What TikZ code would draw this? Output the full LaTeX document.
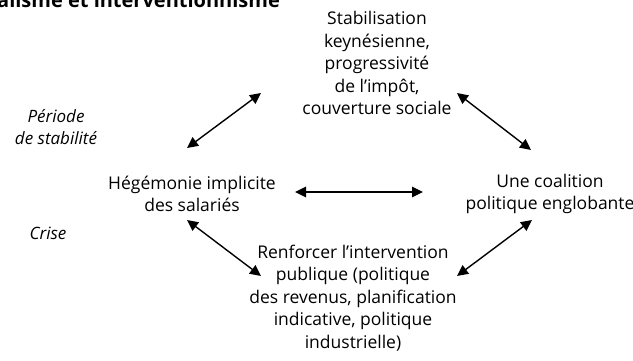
\documentclass[tikz,border=0pt]{standalone}
\usepackage{fontspec}
\setmainfont{Open Sans}
\usetikzlibrary{arrows.meta}
\begin{document}
\begin{tikzpicture}[x=1pt,y=-1pt,
  label text/.style={inner sep=0pt,align=center,font=\fontsize{17.5}{22.5}\selectfont},
  side text/.style={inner sep=0pt,align=center,font=\fontsize{17}{22.5}\selectfont\itshape},
  link/.style={line width=1.4pt,{Triangle[length=11pt,width=10.5pt]}-{Triangle[length=11pt,width=10.5pt]}}]
  \useasboundingbox (0,0) rectangle (633,361);
  \clip (0,0) rectangle (633,361);
  % heading, cut by the top edge
  \node[anchor=base west,inner sep=0pt,font=\fontsize{20}{22}\selectfont\bfseries] (head) at (-3,8) {alisme et interventionnisme};
  % the four poles
  \node[label text] (top) at (377,63) {Stabilisation\\keynésienne,\\progressivité\\de l’impôt,\\couverture sociale};
  \node[label text] (left) at (192,194) {Hégémonie implicite\\des salariés};
  \node[label text] (right) at (550,194) {Une coalition\\politique englobante};
  \node[label text] (bottom) at (353,298) {Renforcer l’intervention\\publique (politique\\des revenus, planification\\indicative, politique\\industrielle)};
  % period labels
  \node[side text] (stab) at (56,127) {Période\\de stabilité};
  \node[side text] (crise) at (48,233) {Crise};
  % arrow ends
  \coordinate (tl1) at (187,148); \coordinate (tl2) at (261,93);
  \coordinate (tr1) at (457,93);  \coordinate (tr2) at (531,150);
  \coordinate (ml) at (295,192);  \coordinate (mr) at (423,192);
  \coordinate (bl1) at (187,220); \coordinate (bl2) at (261,276);
  \coordinate (br1) at (532,220); \coordinate (br2) at (457,276);
  \draw[link] (tl1) -- (tl2);
  \draw[link] (tr1) -- (tr2);
  \draw[link] (ml) -- (mr);
  \draw[link] (bl1) -- (bl2);
  \draw[link] (br1) -- (br2);
\end{tikzpicture}
\end{document}
